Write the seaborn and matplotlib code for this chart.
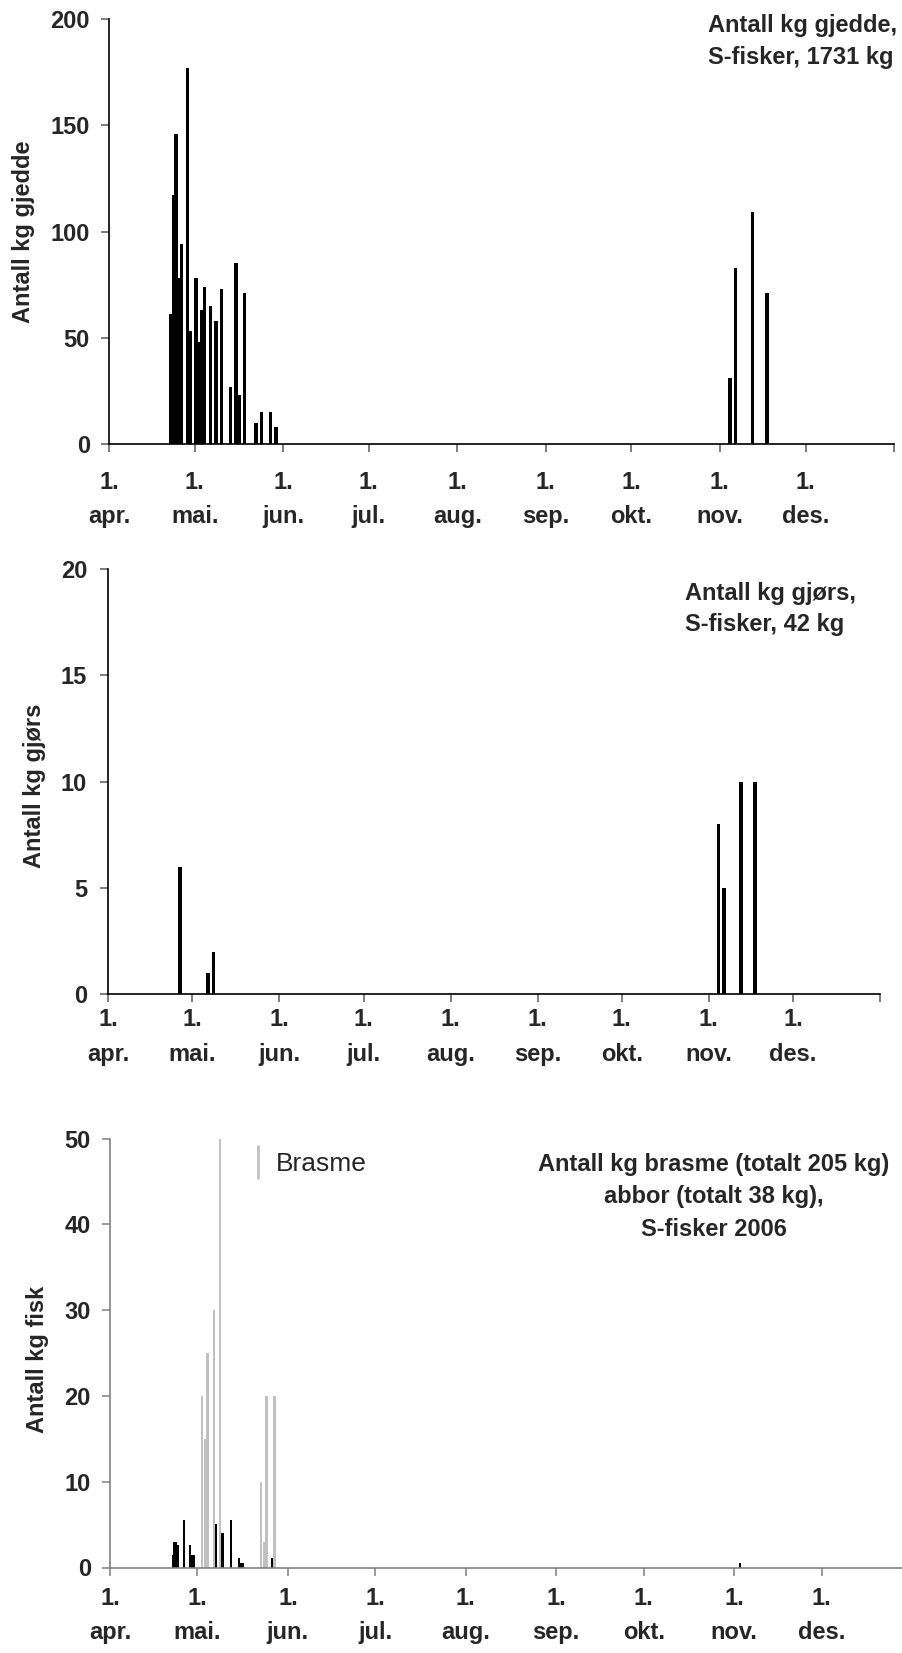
import numpy as np
import pandas as pd
import matplotlib
matplotlib.use("Agg")
import matplotlib.pyplot as plt
from matplotlib.lines import Line2D
import seaborn as sns

# ---------------- data (x = days after 1 April 2006, bar centre) ----------------
gjedde_dag = [21.5, 22.5, 23.5, 24.5, 25.5, 27.5, 28.5, 30.5, 31.5, 32.5, 33.5, 35.5, 37.5,
              39.5, 42.5, 44.5, 45.5, 47.5, 51.5, 53.5, 56.5, 58.5, 217.5, 219.5, 225.5, 230.5]
gjedde_kg = [61, 117, 146, 78, 94, 177, 53, 78, 48, 63, 74, 65, 58,
             73, 27, 85, 23, 71, 10, 15, 15, 8, 31, 83, 109, 71]

gjors_dag = [25.5, 35.5, 37.5, 217.5, 219.5, 225.5, 230.5]
gjors_kg = [6, 1, 2, 8, 5, 10, 10]

brasme_dag = [31.6, 32.5, 33.5, 35.65, 37.75, 51.8, 52.9, 53.7, 56.45]
brasme_kg = [20, 15, 25, 30, 50, 10, 3, 20, 20]

abbor_dag = [21.45, 22.05, 22.65, 23.35, 25.3, 27.4, 28.0, 28.7, 36.35, 38.3, 38.95,
             41.5, 44.25, 44.9, 45.55, 55.45, 216.1]
abbor_kg = [1.5, 3.0, 3.0, 2.6, 5.5, 2.6, 1.5, 1.5, 5.1, 4.0, 4.0,
            5.5, 1.1, 0.5, 0.5, 1.1, 0.5]

maaneder = ["apr.", "mai.", "jun.", "jul.", "aug.", "sep.", "okt.", "nov.", "des."]
titler = ["Antall kg gjedde,\nS-fisker, 1731 kg",
          "Antall kg gjørs,\nS-fisker, 42 kg",
          "Antall kg brasme (totalt 205 kg)\nabbor (totalt 38 kg),\nS-fisker 2006"]
ylabels = ["Antall kg gjedde", "Antall kg gjørs", "Antall kg fisk"]

# ---------------- style ----------------
sns.set_style("ticks")
plt.rcParams['font.family'] = ['Liberation Sans', 'DejaVu Sans']
FS = 17

start = pd.Timestamp("2006-04-01")
month_starts = pd.date_range("2006-04-01", "2007-01-01", freq="MS")
tick_pos = [(d - start).days for d in month_starts]
tick_lab = ["1.\n" + m for m in maaneder] + [""]
x_end = tick_pos[-1]

W, H = 903, 1653
fig = plt.figure(figsize=(W / 100, H / 100), dpi=100)


def rect(l, r, t, b):
    return [l / W, 1 - b / H, (r - l) / W, (b - t) / H]


def rel_width(w, xs):
    u = np.unique(xs)
    return w / np.min(np.diff(u))


def style_axis(ax, yticks, ymax, xpad, ypad, spine_col, tick_col, lsp):
    ax.set_xlim(0, x_end)
    ax.set_ylim(0, ymax)
    ax.set_yticks(yticks)
    ax.set_yticklabels([str(v) for v in yticks])
    ax.set_xticks(tick_pos)
    ax.set_xticklabels(tick_lab)
    ax.set_xlabel("")
    ax.set_ylabel("")
    sns.despine(ax=ax)
    for s in ["left", "bottom"]:
        ax.spines[s].set_color(spine_col)
        ax.spines[s].set_linewidth(1.2)
    ax.tick_params(axis="x", direction="out", length=5.5, width=1.1, color=tick_col,
                   pad=xpad, labelsize=FS)
    ax.tick_params(axis="y", direction="out", length=5.8, width=1.1, color=tick_col,
                   pad=ypad, labelsize=FS)
    for lab in ax.get_xticklabels() + ax.get_yticklabels():
        lab.set_fontweight("bold")
    for lab in ax.get_xticklabels():
        lab.set_linespacing(lsp)


# ---------------- panel 1: gjedde ----------------
ax1 = fig.add_axes(rect(109, 894, 19, 444))
sns.barplot(x=gjedde_dag, y=gjedde_kg, native_scale=True, color="black", saturation=1,
            width=rel_width(1.15, gjedde_dag), errorbar=None, linewidth=0, ax=ax1)
style_axis(ax1, [0, 50, 100, 150, 200], 200, 14.0, 8.0, "black", "#595959", 1.6)
ax1.text((23 - 109) / 785, 0.5, ylabels[0], transform=ax1.transAxes, rotation=90,
         ha="center", va="center", fontsize=FS, fontweight="bold")
fig.text(708 / W, 1 - 41.5 / H, titler[0], ha="left", va="center", fontsize=FS,
         fontweight="bold", linespacing=1.5)

# ---------------- panel 2: gjørs ----------------
ax2 = fig.add_axes(rect(108.3, 880, 569.3, 994))
sns.barplot(x=gjors_dag, y=gjors_kg, native_scale=True, color="black", saturation=1,
            width=rel_width(1.3, gjors_dag), errorbar=None, linewidth=0, ax=ax2)
style_axis(ax2, [0, 5, 10, 15, 20], 20, 4.5, 9.5, "black", "#595959", 1.65)
ax2.text((35 - 108.3) / 771.7, 0.49, ylabels[1], transform=ax2.transAxes, rotation=90,
         ha="center", va="center", fontsize=FS, fontweight="bold")
fig.text(685 / W, 1 - 609 / H, titler[1], ha="left", va="center", fontsize=FS,
         fontweight="bold", linespacing=1.4)

# ---------------- panel 3: brasme + abbor ----------------
px_day3 = 2.916
ax3 = fig.add_axes(rect(110, 110 + x_end * px_day3, 1138.5, 1567.5))
sns.barplot(x=brasme_dag, y=brasme_kg, native_scale=True, color="#C0C0C0", saturation=1,
            width=rel_width(0.85, brasme_dag), errorbar=None, linewidth=0, ax=ax3)
sns.barplot(x=abbor_dag, y=abbor_kg, native_scale=True, color="black", saturation=1,
            width=rel_width(0.6, abbor_dag), errorbar=None, linewidth=0, ax=ax3)
style_axis(ax3, [0, 10, 20, 30, 40, 50], 50, 8.5, 8.0, "#808080", "#808080", 1.6)
ax3.text((38 - 110) / (x_end * px_day3), 0.485, ylabels[2], transform=ax3.transAxes,
         rotation=90, ha="center", va="center", fontsize=FS, fontweight="bold")
fig.text(714 / W, 1 - 1197 / H, titler[2], ha="center", va="center", fontsize=FS,
         fontweight="bold", linespacing=1.5, multialignment="center")

handle = Line2D([0], [0], color="#C0C0C0", marker="|", linestyle="None",
                markersize=25, markeredgewidth=2)
leg = ax3.legend([handle], ["Brasme"], loc="center left",
                 bbox_to_anchor=(249.7 / W, 1 - 1164 / H), bbox_transform=fig.transFigure,
                 frameon=False, fontsize=19, handlelength=0.6, handletextpad=0.4,
                 borderpad=0, borderaxespad=0)

fig.savefig("out.png", dpi=100)
